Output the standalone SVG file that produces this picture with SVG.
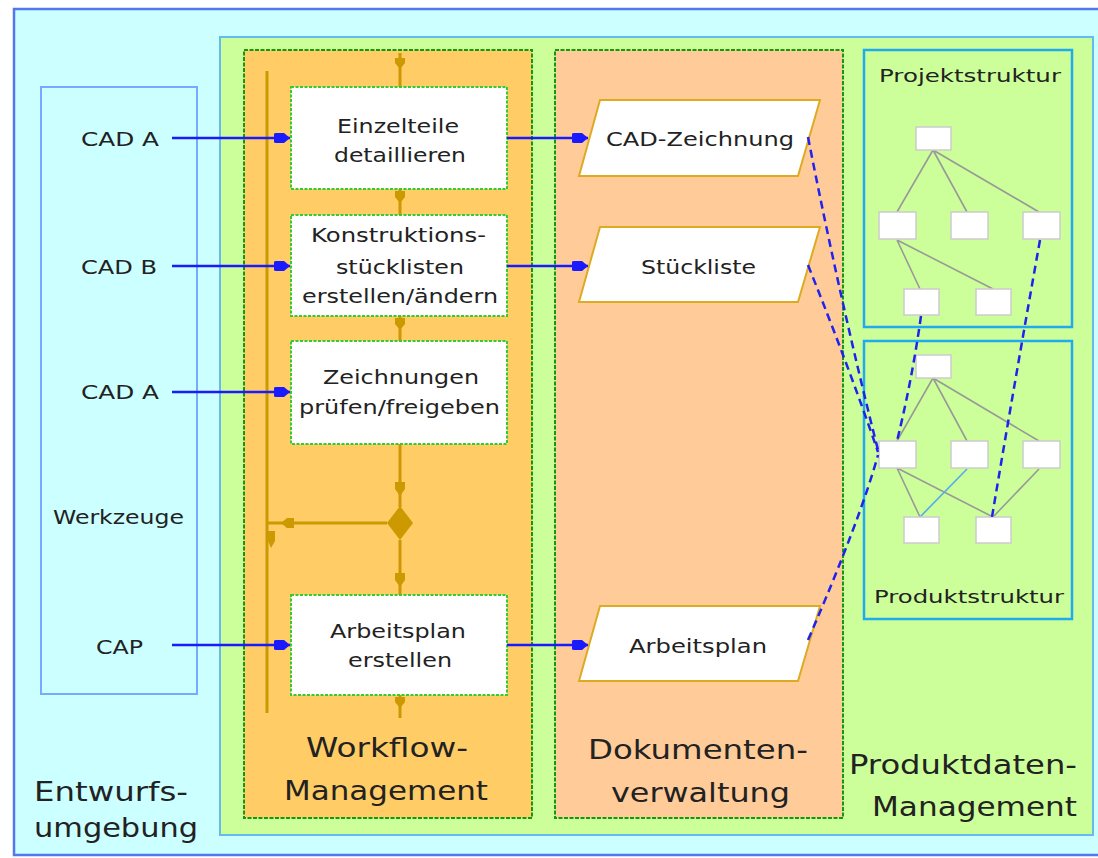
<svg xmlns="http://www.w3.org/2000/svg" width="1098" height="858" viewBox="0 0 1098 858">
  <defs>
    <style>
      text { font-family: "DejaVu Sans", "Liberation Sans", sans-serif; fill: #222; }
      .lbl { font-size: 19px; text-anchor: middle; }
      .big { font-size: 27px; text-anchor: middle; }
      .tree { font-size: 17px; text-anchor: middle; }
      .proc { fill: #fff; stroke: #33cc33; stroke-width: 2; stroke-dasharray: 3 1.5; }
      .doc { fill: #fff; stroke: #ddaa22; stroke-width: 2; }
      .tn { fill: #fff; stroke: #cccccc; stroke-width: 1.5; }
      .te { stroke: #999; stroke-width: 1.6; fill: none; }
      .flow { stroke: #1a1aff; stroke-width: 2.5; fill: none; marker-end: url(#blueHead); }
      .link { stroke: #2222ee; stroke-width: 2.5; fill: none; stroke-dasharray: 8 5; }
      .wf { stroke: #cc9900; stroke-width: 3; fill: none; }
      .wfh { fill: #cc9900; }
    </style>
    <marker id="blueHead" viewBox="0 0 16 10" refX="16" refY="5" markerWidth="16" markerHeight="10" markerUnits="userSpaceOnUse" orient="auto">
      <path d="M0,1 Q0,0 2,0 L10,0 L16,5 L10,10 L2,10 Q0,10 0,9 Z" fill="#1a1aff"/>
    </marker>
  </defs>

  <!-- design environment (outer frame) -->
  <g id="entwurfsumgebung">
    <rect x="14" y="9" width="1090" height="846" fill="#ccffff" stroke="#5577ee" stroke-width="2.5"/>
    <text x="34" y="801" style="font-size:27px" textLength="154" lengthAdjust="spacingAndGlyphs">Entwurfs-</text>
    <text x="34" y="837" style="font-size:27px" textLength="164" lengthAdjust="spacingAndGlyphs">umgebung</text>
  </g>

  <!-- tools column -->
  <g id="werkzeuge">
    <rect x="41" y="87" width="156" height="607" fill="none" stroke="#77aaff" stroke-width="2"/>
    <text class="lbl" x="120" y="146" textLength="78" lengthAdjust="spacingAndGlyphs">CAD A</text>
    <text class="lbl" x="119" y="274" textLength="76" lengthAdjust="spacingAndGlyphs">CAD B</text>
    <text class="lbl" x="120" y="399" textLength="78" lengthAdjust="spacingAndGlyphs">CAD A</text>
    <text class="lbl" x="118.5" y="524" textLength="131" lengthAdjust="spacingAndGlyphs">Werkzeuge</text>
    <text class="lbl" x="119.5" y="654" textLength="47" lengthAdjust="spacingAndGlyphs">CAP</text>
  </g>

  <!-- product data management container -->
  <g id="pdm">
    <rect x="220" y="37" width="873" height="798" fill="#ccff99" stroke="#66bbee" stroke-width="2"/>
    <text class="big" x="963" y="774" textLength="228" lengthAdjust="spacingAndGlyphs">Produktdaten-</text>
    <text class="big" x="974.5" y="816" textLength="205" lengthAdjust="spacingAndGlyphs">Management</text>
  </g>

  <!-- workflow management lane -->
  <g id="workflow">
    <rect x="244" y="50" width="288" height="768" fill="#ffcc66" stroke="#119911" stroke-width="2" stroke-dasharray="4 1.5"/>
    <text class="big" x="387" y="757" textLength="162" lengthAdjust="spacingAndGlyphs">Workflow-</text>
    <text class="big" x="386" y="800" textLength="204" lengthAdjust="spacingAndGlyphs">Management</text>
  </g>

  <!-- document management lane -->
  <g id="dokumentenverwaltung">
    <rect x="555" y="50" width="288" height="768" fill="#ffcc99" stroke="#119911" stroke-width="2" stroke-dasharray="4 1.5"/>
    <text class="big" x="698" y="759" textLength="220" lengthAdjust="spacingAndGlyphs">Dokumenten-</text>
    <text class="big" x="700.5" y="802" textLength="179" lengthAdjust="spacingAndGlyphs">verwaltung</text>
  </g>

  <!-- project structure tree -->
  <g id="projektstruktur">
    <rect x="864" y="50" width="208" height="277" fill="none" stroke="#22aaee" stroke-width="2.5"/>
    <text class="tree" x="970" y="82" textLength="182" lengthAdjust="spacingAndGlyphs">Projektstruktur</text>
    <path class="te" d="M933,150 L897,212 M933,150 L967,212 M933,150 L1039,212 M897,240 L920,289 M897,240 L993,289"/>
    <rect class="tn" x="916" y="127" width="35" height="23"/>
    <rect class="tn" x="879" y="212" width="37" height="27"/>
    <rect class="tn" x="951" y="212" width="37" height="27"/>
    <rect class="tn" x="1023" y="212" width="37" height="27"/>
    <rect class="tn" x="904" y="289" width="35" height="26"/>
    <rect class="tn" x="976" y="289" width="35" height="26"/>
  </g>

  <!-- product structure tree -->
  <g id="produktstruktur">
    <rect x="864" y="341" width="208" height="278" fill="none" stroke="#22aaee" stroke-width="2.5"/>
    <text class="tree" x="969" y="603" textLength="190" lengthAdjust="spacingAndGlyphs">Produktstruktur</text>
    <path class="te" d="M933,378 L897,441 M933,378 L967,441 M933,378 L1039,441 M897,468 L920,517 M897,468 L993,517 M1039,469 L993,517"/>
    <path d="M967,469 L920,517" stroke="#55aaee" stroke-width="1.6" fill="none"/>
    <rect class="tn" x="916" y="355" width="35" height="23"/>
    <rect class="tn" x="879" y="441" width="37" height="27"/>
    <rect class="tn" x="951" y="441" width="37" height="27"/>
    <rect class="tn" x="1023" y="441" width="37" height="27"/>
    <rect class="tn" x="904" y="517" width="35" height="26"/>
    <rect class="tn" x="976" y="517" width="35" height="26"/>
  </g>

  <!-- workflow control flow -->
  <g id="workflow-flow">
    <line class="wf" x1="267" y1="71" x2="267" y2="713" stroke-width="4"/>
    <line class="wf" x1="400" y1="53" x2="400" y2="87"/>
    <path class="wfh" d="M395,58 L405,58 L405,63 L400,69 L395,63 Z"/>
    <line class="wf" x1="400" y1="189" x2="400" y2="215"/>
    <path class="wfh" d="M395,191 L405,191 L405,197 L400,203 L395,197 Z"/>
    <line class="wf" x1="400" y1="316" x2="400" y2="341"/>
    <path class="wfh" d="M395,318 L405,318 L405,324 L400,330 L395,324 Z"/>
    <line class="wf" x1="400" y1="444" x2="400" y2="507"/>
    <path class="wfh" d="M395,482 L405,482 L405,489 L400,496 L395,489 Z"/>
    <path class="wfh" d="M400,506 L413,523 L400,540 L387,523 Z"/>
    <line class="wf" x1="387" y1="523" x2="267" y2="523"/>
    <path class="wfh" d="M294,518 L294,528 L287,528 L281,523 L287,518 Z"/>
    <path class="wfh" d="M268,531 L275,531 L275,541 L271,548 L268,541 Z"/>
    <line class="wf" x1="400" y1="540" x2="400" y2="595"/>
    <path class="wfh" d="M395,573 L405,573 L405,580 L400,587 L395,580 Z"/>
    <line class="wf" x1="400" y1="695" x2="400" y2="718"/>
    <path class="wfh" d="M395,697 L405,697 L405,702 L400,708 L395,702 Z"/>
  </g>

  <!-- workflow activities -->
  <g id="einzelteile">
    <rect class="proc" x="291" y="87" width="216" height="102"/>
    <text class="lbl" x="398" y="133" textLength="122" lengthAdjust="spacingAndGlyphs">Einzelteile</text>
    <text class="lbl" x="400" y="162" textLength="132" lengthAdjust="spacingAndGlyphs">detaillieren</text>
  </g>
  <g id="stuecklisten">
    <rect class="proc" x="291" y="215" width="216" height="101"/>
    <text class="lbl" x="398.5" y="242" textLength="175" lengthAdjust="spacingAndGlyphs">Konstruktions-</text>
    <text class="lbl" x="400" y="274" textLength="128" lengthAdjust="spacingAndGlyphs">stücklisten</text>
    <text class="lbl" x="400" y="303" textLength="196" lengthAdjust="spacingAndGlyphs">erstellen/ändern</text>
  </g>
  <g id="zeichnungen">
    <rect class="proc" x="291" y="341" width="216" height="103"/>
    <text class="lbl" x="401" y="384" textLength="156" lengthAdjust="spacingAndGlyphs">Zeichnungen</text>
    <text class="lbl" x="399.5" y="414" textLength="201" lengthAdjust="spacingAndGlyphs">prüfen/freigeben</text>
  </g>
  <g id="arbeitsplan-erstellen">
    <rect class="proc" x="291" y="595" width="216" height="100"/>
    <text class="lbl" x="398" y="638" textLength="136" lengthAdjust="spacingAndGlyphs">Arbeitsplan</text>
    <text class="lbl" x="400" y="667" textLength="104" lengthAdjust="spacingAndGlyphs">erstellen</text>
  </g>

  <!-- documents -->
  <g id="cad-zeichnung">
    <path class="doc" d="M600,100 L820,100 L798,176 L579,176 Z"/>
    <text class="lbl" x="700" y="146" textLength="188" lengthAdjust="spacingAndGlyphs">CAD-Zeichnung</text>
  </g>
  <g id="stueckliste">
    <path class="doc" d="M600,227 L820,227 L798,302 L579,302 Z"/>
    <text class="lbl" x="698.5" y="274" textLength="115" lengthAdjust="spacingAndGlyphs">Stückliste</text>
  </g>
  <g id="arbeitsplan">
    <path class="doc" d="M600,606 L820,606 L798,681 L579,681 Z"/>
    <text class="lbl" x="698" y="653" textLength="138" lengthAdjust="spacingAndGlyphs">Arbeitsplan</text>
  </g>

  <!-- connectors -->
  <g id="connectors">
    <line class="flow" x1="172" y1="138" x2="290" y2="138"/>
    <line class="flow" x1="172" y1="266" x2="290" y2="266"/>
    <line class="flow" x1="172" y1="392" x2="290" y2="392"/>
    <line class="flow" x1="172" y1="645" x2="290" y2="645"/>
    <line class="flow" x1="507" y1="138" x2="588" y2="138"/>
    <line class="flow" x1="507" y1="266" x2="588" y2="266"/>
    <line class="flow" x1="507" y1="645" x2="588" y2="645"/>
    <path class="link" d="M808,137 Q840,300 878,450"/>
    <path class="link" d="M808,265 Q850,370 878,452"/>
    <path class="link" d="M808,640 Q860,520 878,455"/>
    <path class="link" d="M921,316 Q912,380 897,441"/>
    <path class="link" d="M1040,240 Q1015,380 992,517"/>
  </g>
</svg>
